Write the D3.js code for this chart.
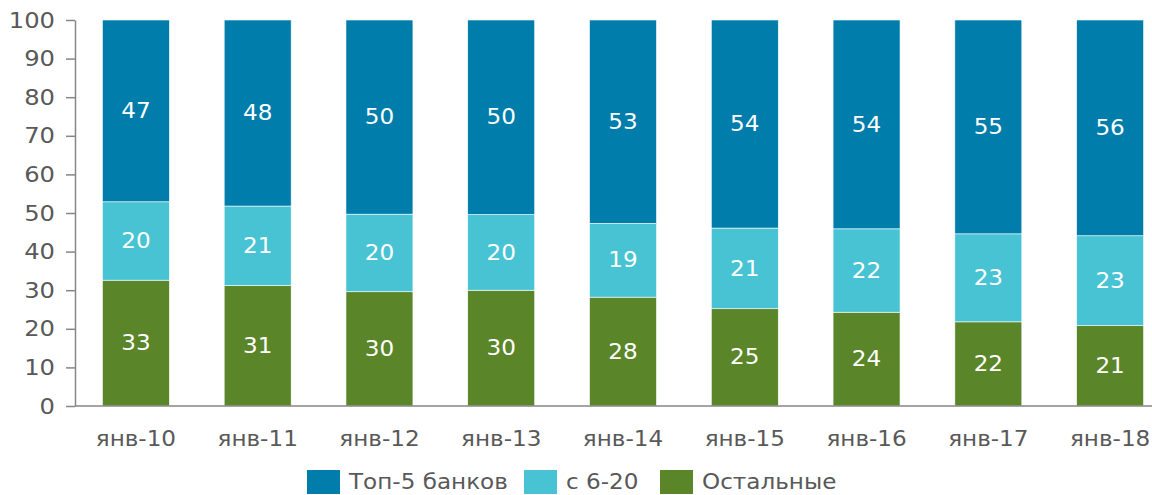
<!DOCTYPE html>
<html>
<head>
<meta charset="utf-8">
<script src="https://cdn.jsdelivr.net/npm/d3@7"></script>
<style>
  body { margin: 0; background: #fff; }
  text { font-family: "DejaVu Sans", Verdana, sans-serif; }
</style>
</head>
<body>
<script>
// data
var categories = ["янв-10","янв-11","янв-12","янв-13","янв-14","янв-15","янв-16","янв-17","янв-18"];
var others = [32.6, 31.2, 29.6, 30.0, 28.2, 25.2, 24.3, 21.8, 20.8];
var mid    = [20.3, 20.6, 20.1, 19.6, 19.1, 20.9, 21.6, 22.8, 23.3];
var top5   = [47.1, 48.2, 50.3, 50.4, 52.7, 53.9, 54.1, 55.4, 55.9];
var seriesNames = ["Топ-5 банков", "с 6-20", "Остальные"];
var yTicks = [0,10,20,30,40,50,60,70,80,90,100];

var colors = {"Остальные": "#5a8529", "с 6-20": "#48c3d3", "Топ-5 банков": "#007daa"};

var width = 1152, height = 495;
var margin = {top: 20, right: -19, bottom: 89, left: 75};
var sx = 1.1; // the source text is drawn a bit wider than DejaVu

// put x/y into a transform so the glyphs can be widened
function stretch(sel) {
  sel.each(function() {
    var t = d3.select(this);
    var tx = +t.attr("x") || 0, ty = +t.attr("y") || 0;
    t.attr("x", 0).attr("y", 0)
     .attr("transform", "translate(" + tx + "," + ty + ") scale(" + sx + ",1)");
  });
}

var svg = d3.select("body")
  .append("svg")
    .attr("width", width)
    .attr("height", height);

var rows = categories.map(function(c, i) {
  return {cat: c, "Остальные": others[i], "с 6-20": mid[i], "Топ-5 банков": top5[i]};
});

var layers = d3.stack().keys(["Остальные", "с 6-20", "Топ-5 банков"])(rows);

var x = d3.scaleBand()
  .domain(categories)
  .range([margin.left, width - margin.right])
  .paddingInner(0.45)
  .paddingOuter(0.225);

var y = d3.scaleLinear()
  .domain([0, 100])
  .range([height - margin.bottom, margin.top]);

// y axis
var yAxis = svg.append("g")
  .attr("transform", "translate(" + margin.left + ",0)")
  .call(d3.axisLeft(y).tickValues(yTicks).tickSize(9).tickPadding(11).tickSizeOuter(0));
yAxis.select(".domain").attr("stroke", "#868686").attr("stroke-width", 1.5);
yAxis.selectAll(".tick line").attr("stroke", "#868686").attr("stroke-width", 1.5);
yAxis.selectAll("text")
  .style("font-size", "22px")
  .attr("fill", "#595959")
  .call(stretch);

// bars
var groups = svg.selectAll("g.layer")
  .data(layers)
  .enter()
  .append("g")
    .attr("class", "layer")
    .attr("fill", function(d) { return colors[d.key]; });

groups.selectAll("rect")
  .data(function(d) { return d; })
  .enter()
  .append("rect")
    .attr("x", function(d) { return x(d.data.cat); })
    .attr("y", function(d) { return y(d[1]); })
    .attr("width", x.bandwidth())
    .attr("height", function(d) { return y(d[0]) - y(d[1]); })
    .attr("stroke", "#ffffff")
    .attr("stroke-width", 0.6);

// value labels
groups.selectAll("text")
  .data(function(d) { return d.map(function(p) { p.key = d.key; return p; }); })
  .enter()
  .append("text")
    .attr("x", function(d) { return x(d.data.cat) + x.bandwidth() / 2; })
    .attr("y", function(d) { return (y(d[0]) + y(d[1])) / 2; })
    .attr("text-anchor", "middle")
    .attr("dominant-baseline", "central")
    .attr("fill", "#ffffff")
    .style("font-size", "21px")
    .text(function(d) { return Math.round(d.data[d.key]); })
    .call(stretch);

// x axis line
svg.append("line")
  .attr("x1", margin.left)
  .attr("x2", width)
  .attr("y1", y(0))
  .attr("y2", y(0))
  .attr("stroke", "#868686")
  .attr("stroke-width", 1.5);

svg.selectAll("text.cat")
  .data(categories)
  .enter()
  .append("text")
    .attr("class", "cat")
    .attr("x", function(d) { return x(d) + x.bandwidth() / 2; })
    .attr("y", 446)
    .attr("text-anchor", "middle")
    .attr("fill", "#595959")
    .style("font-size", "21px")
    .text(function(d) { return d; })
    .call(stretch);

// legend
var legendX = [307, 524, 660];
var legend = svg.selectAll("g.legend")
  .data(seriesNames)
  .enter()
  .append("g")
    .attr("class", "legend")
    .attr("transform", function(d, i) { return "translate(" + legendX[i] + ",470)"; });

legend.append("rect")
  .attr("width", 33)
  .attr("height", 24)
  .attr("fill", function(d) { return colors[d]; });

legend.append("text")
  .attr("x", 42)
  .attr("y", 19)
  .attr("fill", "#595959")
  .style("font-size", "21px")
  .text(function(d) { return d; })
  .call(stretch);
</script>
</body>
</html>
